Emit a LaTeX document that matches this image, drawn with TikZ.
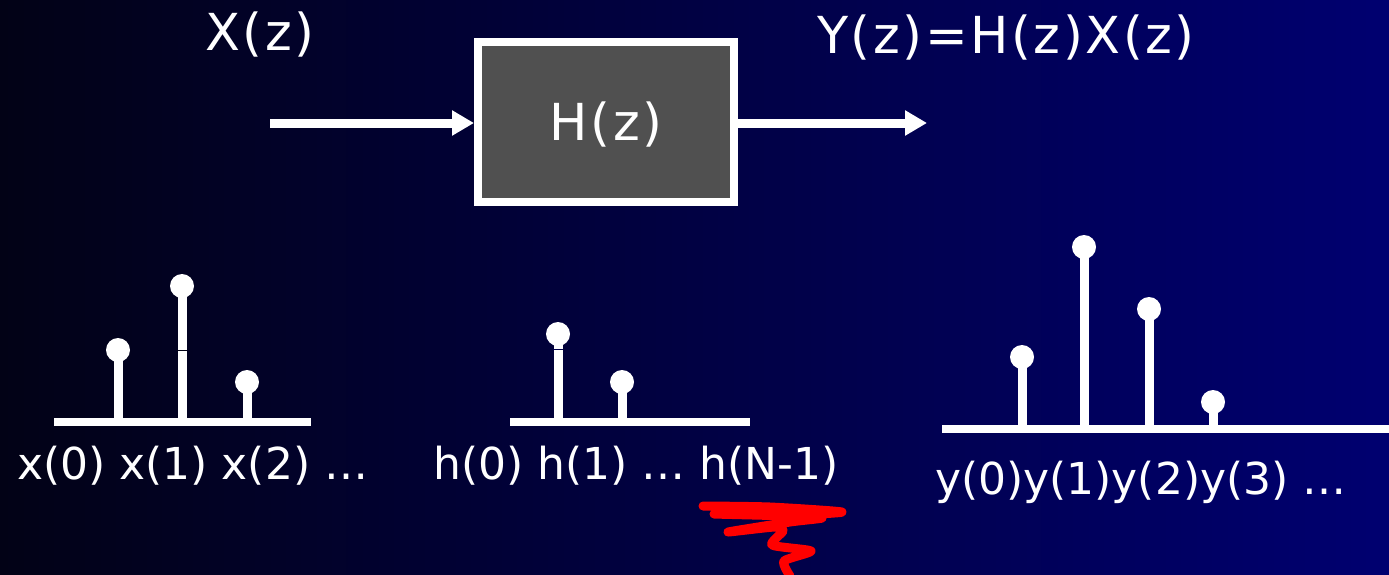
\documentclass[tikz,border=0pt]{standalone}
\usepackage{fontspec}
\setmainfont{DejaVu Sans}
\newfontfamily\titlefont[LetterSpace=5]{DejaVu Sans}
\usetikzlibrary{arrows.meta}
\definecolor{bgL}{RGB}{2,2,22}
\definecolor{bgR}{RGB}{0,0,112}
\definecolor{boxgray}{RGB}{80,80,80}
\begin{document}
\begin{tikzpicture}[x=1pt,y=-1pt,
  big/.style={text=white,font=\titlefont\fontsize{51}{60}\selectfont,inner sep=0,anchor=base},
  lab/.style={text=white,font=\fontsize{44}{50}\selectfont,inner sep=0,anchor=base west},
  flow/.style={white,line width=9pt,-{Triangle[length=22pt,width=24pt]}},
  axis/.style={white,line width=8pt},
  stem/.style={white,line width=9pt},
  dot/.style={white,fill=white},
  scrib/.style={red,line width=9pt,line cap=round,line join=round}]
\useasboundingbox (0,0) rectangle (1389,574);
\shade[left color=bgL,right color=bgR] (0,0) rectangle (1389,574);
% block
\node[draw=white,line width=8pt,fill=boxgray,minimum width=256pt,minimum height=160pt,inner sep=0,
  text=white,font=\titlefont\fontsize{51}{60}\selectfont,text height=37pt,text depth=0pt] (H) at (606,122) {H(z)};
\node[big] (X) at (260,50) {X(z)};
\node[big] (Y) at (1006,53) {Y(z)=H(z)X(z)};
\coordinate (in) at (270,123);
\coordinate (out) at (927,123);
\draw[flow] (in) -- (in -| H.west);
\draw[flow] (H.east |- out) -- (out);
% input sequence
\coordinate (xa) at (54,422); \coordinate (xb) at (311,422);
\draw[axis] (xa) -- (xb);
\foreach \n/\x/\y in {x0/118/350,x1/182/286,x2/247/382}{
  \coordinate (\n) at (\x,\y);
  \draw[stem] (\n |- xa) -- (\n);
  \fill[dot] (\n) circle (12pt);
}
\draw[bgL,line width=1pt] ([xshift=-5pt]182,350) -- ([xshift=5pt]182,350);
\node[lab] (xl) at (17,479) {x(0) x(1) x(2) …};
% impulse response
\coordinate (ha) at (510,422); \coordinate (hb) at (750,422);
\draw[axis] (ha) -- (hb);
\foreach \n/\x/\y in {h0/558/334,h1/622/382}{
  \coordinate (\n) at (\x,\y);
  \draw[stem] (\n |- ha) -- (\n);
  \fill[dot] (\n) circle (12pt);
}
\draw[bgL!40!bgR,line width=1pt] ([xshift=-5pt]558,349) -- ([xshift=5pt]558,349);
\node[lab] (hl) at (433,479) {h(0) h(1) … h(N-1)};
% output sequence
\coordinate (ya) at (942,429); \coordinate (yb) at (1389,429);
\draw[axis] (ya) -- (yb);
\foreach \n/\x/\y in {y0/1022/357,y1/1084/247,y2/1149/309,y3/1213/402}{
  \coordinate (\n) at (\x,\y);
  \draw[stem] (\n |- ya) -- (\n);
  \fill[dot] (\n) circle (12pt);
}
\node[lab] (yl) at (935,494) {y(0)y(1)y(2)y(3) …};
% red scribble
\draw[scrib] plot[smooth,tension=0.4] coordinates {(703,506) (770,507) (842,512) (790,515) (714,514) (790,516) (822,518) (790,522) (728,532) (775,527) (783,531) (772,545) (811,551) (784,561) (790,576)};
\end{tikzpicture}
\end{document}
